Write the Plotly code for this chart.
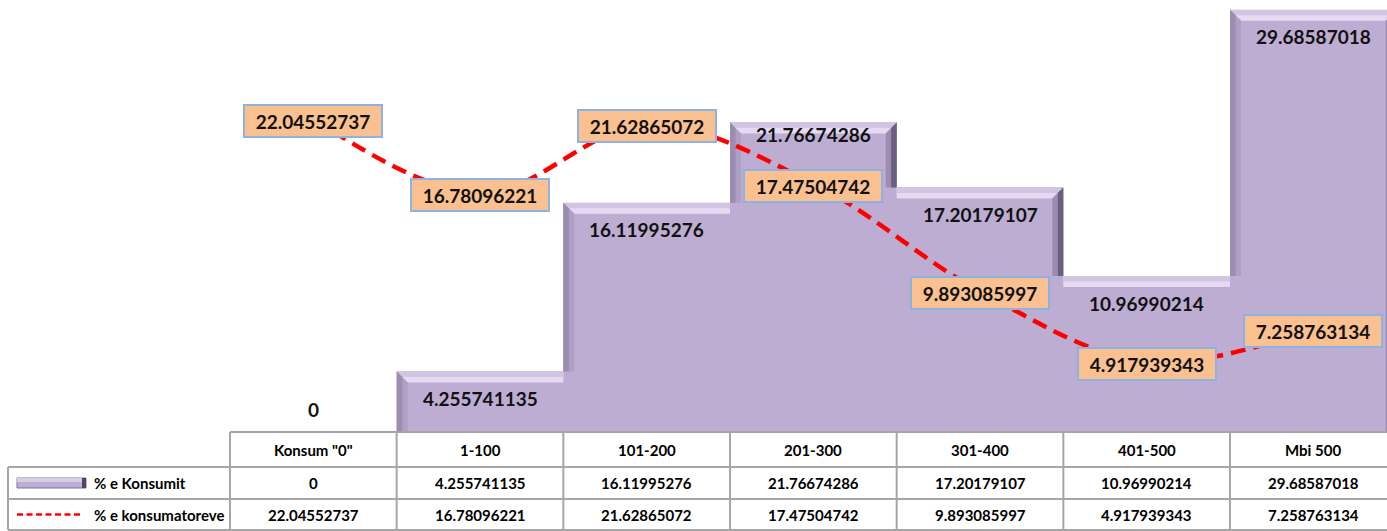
import plotly.graph_objects as go

# ---------------- data ----------------
categories = ['Konsum "0"', '1-100', '101-200', '201-300', '301-400', '401-500', 'Mbi 500']
konsumit = [0, 4.255741135, 16.11995276, 21.76674286, 17.20179107, 10.96990214, 29.68587018]
konsumatoreve = [22.04552737, 16.78096221, 21.62865072, 17.47504742, 9.893085997, 4.917939343, 7.258763134]
konsumit_labels = ["0", "4.255741135", "16.11995276", "21.76674286", "17.20179107", "10.96990214", "29.68587018"]
konsumatoreve_labels = ["22.04552737", "16.78096221", "21.62865072", "17.47504742", "9.893085997", "4.917939343", "7.258763134"]
series_names = ["% e Konsumit", "% e konsumatoreve"]

# ---------------- layout geometry ----------------
W, H = 1387, 531
ML, MR, MT, MB = 230, 0, 0, 99
plot_w = W - ML - MR
plot_h = H - MT - MB
cat_px = 1000 / 6.0            # pixel width of one category
y_max = 30.38
x_lo = -0.5
x_hi = x_lo + plot_w / cat_px
px_per_unit = plot_h / y_max

BAR = "#BDADD3"
FONT = "Lato"
n = len(categories)
idx = list(range(n))

def paper_x_from_cat(c):
    return (c - x_lo) / (x_hi - x_lo)

def paper_x_from_px(px):
    return (px - ML) / plot_w

def paper_y_from_px(py):
    return (MT + plot_h - py) / plot_h

fig = go.Figure()

fig.add_trace(go.Bar(x=idx, y=konsumit, width=1.0, name=series_names[0],
                     marker=dict(color=BAR, line=dict(width=0)),
                     showlegend=False, hoverinfo="skip"))

# ---- bevel effect on the bars (computed from values) ----
dy = 11 / px_per_unit
dx = 11 / cat_px

def poly(xs, ys, color):
    fig.add_trace(go.Scatter(x=xs + [xs[0]], y=ys + [ys[0]], fill="toself", fillcolor=color,
                             mode="lines", line=dict(width=0), hoverinfo="skip", showlegend=False))

for i, v in enumerate(konsumit):
    if v <= 0:
        continue
    left, right = i - 0.5, i + 0.5
    lv = konsumit[i - 1] if i > 0 else 0
    rv = konsumit[i + 1] if i < n - 1 else 0
    ldx = dx if lv < v else 0
    rdx = dx if rv < v else 0
    # top strip (two tones)
    poly([left, right, right - rdx, left + ldx], [v, v, v - dy, v - dy], "#E5DAF1")
    poly([left, right, right - rdx / 2, left + ldx / 2], [v, v, v - dy / 2, v - dy / 2], "#D2C5E1")
    # left strip
    if lv < v:
        poly([left, left + dx, left + dx, left], [v, v - dy, lv, lv], "#AE9FC4")
        poly([left, left + dx / 2, left + dx / 2, left], [v, v - dy / 2, lv, lv], "#9C8CB2")
    # right strip
    if rv < v:
        poly([right, right - dx, right - dx, right], [v, v - dy, rv, rv], "#9D8DB2")
        poly([right, right - dx / 2, right - dx / 2, right], [v, v - dy / 2, rv, rv], "#6B5F80")

# ---- line series ----
fig.add_trace(go.Scatter(x=idx, y=konsumatoreve, mode="lines", name=series_names[1],
                         line=dict(color="#FF0000", width=4.5, dash="15px,8px", shape="spline", smoothing=1.0),
                         showlegend=False, hoverinfo="skip"))

annotations = []
# bar data labels (inside end)
label_nudge = {3: 15}
for i, (v, t) in enumerate(zip(konsumit, konsumit_labels)):
    shift = 23 if v == 0 else -27 + label_nudge.get(i, 0)
    annotations.append(dict(x=i, y=v, xref="x", yref="y", text="<b>%s</b>" % t, showarrow=False,
                            xanchor="center", yanchor="middle",
                            yshift=shift, font=dict(family=FONT, size=19, color="#111111")))
# line data labels (boxed, centered)
for i, (v, t) in enumerate(zip(konsumatoreve, konsumatoreve_labels)):
    annotations.append(dict(x=i, y=v, xref="x", yref="y", text="<b>%s</b>" % t, showarrow=False,
                            xanchor="center", yanchor="middle",
                            yshift=-2, bgcolor="#FAC090", bordercolor="#8DB3E2", borderwidth=2,
                            borderpad=3, width=130, height=24,
                            font=dict(family=FONT, size=19, color="#111111")))

# ---------------- data table ----------------
row_edges_px = [432, 467, 499, 530]
row_edges = [paper_y_from_px(p) for p in row_edges_px]
row_centers = [(row_edges[k] + row_edges[k + 1]) / 2 for k in range(3)]
legend_left = paper_x_from_px(8)
GRID = dict(color="#A6A6A6", width=2)
shapes = []
shapes.append(dict(type="line", xref="paper", yref="paper", x0=0, x1=1, y0=row_edges[0], y1=row_edges[0], line=GRID))
for k in (1, 2, 3):
    shapes.append(dict(type="line", xref="paper", yref="paper", x0=legend_left, x1=1,
                       y0=row_edges[k], y1=row_edges[k], line=GRID))
shapes.append(dict(type="line", xref="paper", yref="paper", x0=legend_left, x1=legend_left,
                   y0=row_edges[1], y1=row_edges[3], line=GRID))
for c in range(n):
    xb = paper_x_from_cat(c - 0.5)
    shapes.append(dict(type="line", xref="paper", yref="paper", x0=xb, x1=xb,
                       y0=row_edges[0], y1=row_edges[3], line=GRID))

TF = dict(family=FONT, size=15, color="#000000")
for i, c in enumerate(categories):
    for r, txt in enumerate((c, konsumit_labels[i], konsumatoreve_labels[i])):
        annotations.append(dict(x=i, y=row_centers[r], xref="x", yref="paper", text="<b>%s</b>" % txt,
                                xanchor="center", yanchor="middle", showarrow=False, font=TF))

# legend keys inside table
key_x0, key_x1 = paper_x_from_px(17), paper_x_from_px(86)
kh = 5 / plot_h
shapes.append(dict(type="rect", xref="paper", yref="paper", x0=key_x0, x1=key_x1,
                   y0=row_centers[1] - kh, y1=row_centers[1] + kh,
                   fillcolor=BAR, line=dict(color="#7F7294", width=1)))
shapes.append(dict(type="rect", xref="paper", yref="paper", x0=key_x0, x1=key_x1,
                   y0=row_centers[1] + kh * 0.2, y1=row_centers[1] + kh,
                   fillcolor="#D8CDE6", line=dict(width=0)))
shapes.append(dict(type="rect", xref="paper", yref="paper", x0=paper_x_from_px(82), x1=key_x1,
                   y0=row_centers[1] - kh, y1=row_centers[1] + kh,
                   fillcolor="#4E4560", line=dict(width=0)))
shapes.append(dict(type="line", xref="paper", yref="paper", x0=key_x0, x1=paper_x_from_px(81),
                   y0=row_centers[2], y1=row_centers[2], line=dict(color="#FF0000", width=2.5, dash="6px,3.5px")))
for k, name in enumerate(series_names):
    annotations.append(dict(x=paper_x_from_px(92), y=row_centers[k + 1], xref="paper", yref="paper",
                            xanchor="left", yanchor="middle", text="<b>%s</b>" % name, showarrow=False, font=TF))

fig.update_layout(
    width=W, height=H,
    margin=dict(l=ML, r=MR, t=MT, b=MB, pad=0),
    paper_bgcolor="white", plot_bgcolor="white",
    xaxis=dict(range=[x_lo, x_hi], visible=False, fixedrange=True),
    yaxis=dict(range=[0, y_max], visible=False, fixedrange=True),
    bargap=0,
    shapes=shapes,
    annotations=annotations,
    font=dict(family=FONT),
)

fig.write_html("out.html", config={"displayModeBar": False},
               post_script="document.body.style.margin='0';document.body.style.overflow='hidden';")
